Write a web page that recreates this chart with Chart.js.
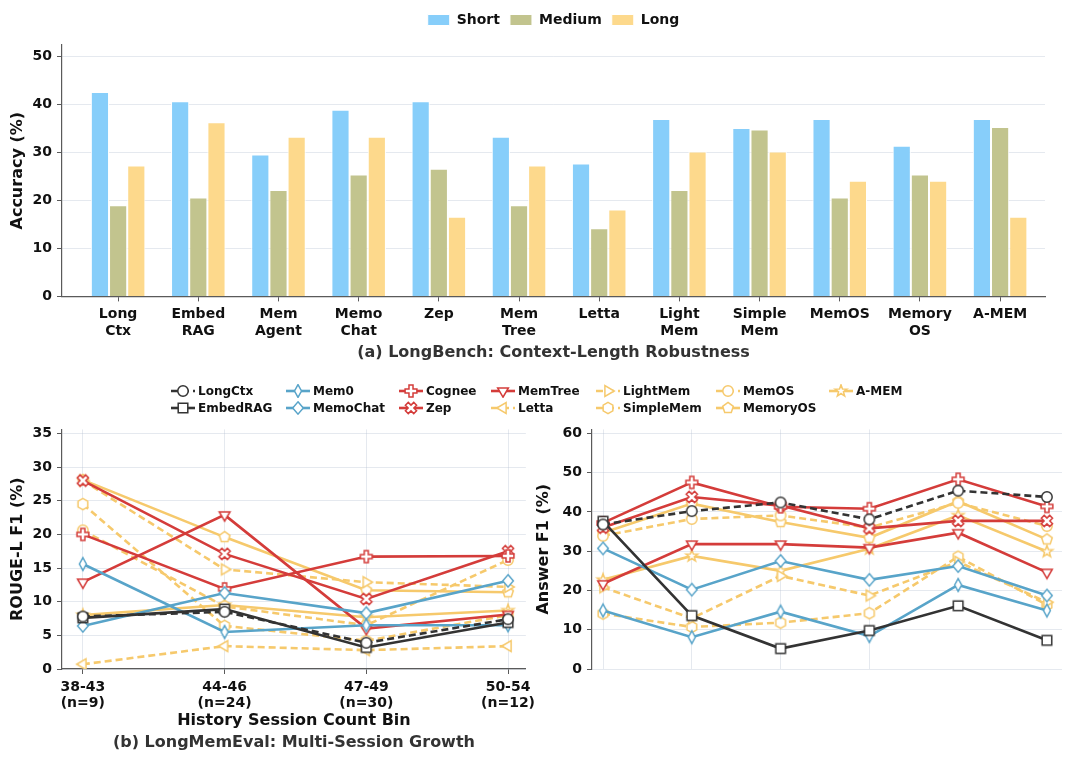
<!DOCTYPE html>
<html>
<head>
<meta charset="utf-8">
<script src="https://cdn.jsdelivr.net/npm/chart.js@4.4.1/dist/chart.umd.min.js"></script>
<style>
  html, body { margin: 0; padding: 0; background: #fff; }
  #page { position: relative; width: 1080px; height: 762px; overflow: hidden; font-family: 'DejaVu Sans', sans-serif; }
  .box { position: absolute; }
  #lineLegend {
    position: absolute; left: 170px; top: 382px;
    display: grid; grid-auto-flow: column;
    grid-template-rows: 17px 17px;
    grid-template-columns: 115px 113px 92px 105px 120px 113px 80px;
    font: bold 12px 'DejaVu Sans', sans-serif; color: #111;
  }
  #lineLegend .item { display: flex; align-items: center; gap: 2px; white-space: nowrap; }
  #lineLegend canvas { display: block; }
</style>
</head>
<body>
<div id="page">
  <div class="box" style="left:0;top:0;width:1080px;height:366px"><canvas id="benchChart"></canvas></div>
  <div id="lineLegend"></div>
  <div class="box" style="left:0;top:416px;width:540px;height:346px"><canvas id="rougeChart"></canvas></div>
  <div class="box" style="left:530px;top:416px;width:550px;height:346px"><canvas id="f1Chart"></canvas></div>
</div>
<script>
Chart.defaults.font.family = "'DejaVu Sans', sans-serif";
Chart.defaults.color = '#111';
Chart.defaults.animation = false;

// (a) LongBench
const categories = [['Long', 'Ctx'], ['Embed', 'RAG'], ['Mem', 'Agent'], ['Memo', 'Chat'], 'Zep', ['Mem', 'Tree'],
    'Letta', ['Light', 'Mem'], ['Simple', 'Mem'], 'MemOS', ['Memory', 'OS'], 'A-MEM'];
const shortAcc = [42.6, 40.7, 29.6, 38.9, 40.7, 33.3, 27.7, 37.0, 35.1, 37.0, 31.4, 37.0];
const mediumAcc = [19.0, 20.6, 22.2, 25.4, 26.6, 19.0, 14.2, 22.2, 34.8, 20.6, 25.4, 35.3];
const longAcc = [27.3, 36.3, 33.3, 33.3, 16.6, 27.3, 18.1, 30.2, 30.2, 24.1, 24.1, 16.6];
const accTicks = [0, 10, 20, 30, 40, 50];

// (b) LongMemEval - ROUGE-L F1 per session bin
const rougeBins = [['38-43', '(n=9)'], ['44-46', '(n=24)'], ['47-49', '(n=30)'], ['50-54', '(n=12)']];
const rougeTicks = [0, 5, 10, 15, 20, 25, 30, 35];
const rougeLongCtx = [7.8, 8.5, 3.9, 7.4];
const rougeEmbedRAG = [7.6, 8.9, 3.2, 6.9];
const rougeMem0 = [15.6, 5.5, 6.5, 6.5];
const rougeMemoChat = [6.4, 11.3, 8.3, 13.1];
const rougeCognee = [20.0, 11.9, 16.7, 16.8];
const rougeZep = [28.0, 17.1, 10.4, 17.5];
const rougeMemTree = [12.9, 22.9, 6.0, 8.1];
const rougeLetta = [0.7, 3.4, 2.8, 3.4];
const rougeLightMem = [28.0, 14.8, 12.9, 12.2];
const rougeSimpleMem = [24.5, 6.4, 4.2, 8.0];
const rougeMemOS = [20.6, 9.3, 6.5, 16.2];
const rougeMemoryOS = [28.1, 19.6, 11.7, 11.4];
const rougeAMem = [8.0, 9.5, 7.7, 8.7];

// Answer F1 (6 bins, labels not readable)
const f1Ticks = [0, 10, 20, 30, 40, 50, 60];
const f1LongCtx = [36.8, 40.2, 42.4, 38.1, 45.4, 43.8];
const f1EmbedRAG = [37.6, 13.6, 5.2, 9.8, 16.1, 7.3];
const f1Mem0 = [14.9, 8.1, 14.6, 8.4, 21.4, 14.9];
const f1MemoChat = [30.7, 20.2, 27.5, 22.7, 26.2, 18.7];
const f1Cognee = [37.2, 47.5, 41.3, 40.8, 48.3, 41.4];
const f1Zep = [36.0, 43.8, 41.6, 35.8, 37.7, 37.7];
const f1MemTree = [21.7, 31.8, 31.8, 30.9, 34.7, 24.6];
const f1LightMem = [20.8, 12.9, 23.7, 18.7, 27.3, 17.0];
const f1SimpleMem = [14.1, 10.7, 11.8, 14.2, 28.6, 16.3];
const f1MemOS = [33.9, 38.2, 39.1, 36.0, 42.3, 36.4];
const f1MemoryOS = [34.7, 42.1, 37.4, 33.4, 42.7, 33.0];
const f1AMem = [22.7, 28.8, 25.0, 30.6, 39.1, 29.9];

const DARK = '#333333', BLUE = '#58A4C9', RED = '#D43C3A', YELLOW = '#F6C96C';
const GRID = 'rgba(175,188,204,0.32)';
const AXIS = '#5a5a5a';

// method, colour, dash, marker, rouge, f1
const methods = [
    ['LongCtx', DARK, true, 'circle', rougeLongCtx, f1LongCtx],
    ['EmbedRAG', DARK, false, 'square', rougeEmbedRAG, f1EmbedRAG],
    ['Mem0', BLUE, false, 'thinDiamond', rougeMem0, f1Mem0],
    ['MemoChat', BLUE, false, 'diamond', rougeMemoChat, f1MemoChat],
    ['Cognee', RED, false, 'plus', rougeCognee, f1Cognee],
    ['Zep', RED, false, 'cross', rougeZep, f1Zep],
    ['MemTree', RED, false, 'triDown', rougeMemTree, f1MemTree],
    ['Letta', YELLOW, true, 'triLeft', rougeLetta, null],
    ['LightMem', YELLOW, true, 'triRight', rougeLightMem, f1LightMem],
    ['SimpleMem', YELLOW, true, 'hexagon', rougeSimpleMem, f1SimpleMem],
    ['MemOS', YELLOW, true, 'circle', rougeMemOS, f1MemOS],
    ['MemoryOS', YELLOW, false, 'pentagon', rougeMemoryOS, f1MemoryOS],
    ['A-MEM', YELLOW, false, 'star', rougeAMem, f1AMem],
];

// маркеры: белая заливка, цветной контур
function markerCanvas(shape, color) {
    const r = 5.6, size = 18;
    const c = document.createElement('canvas');
    c.width = size; c.height = size;
    const ctx = c.getContext('2d');
    ctx.translate(size / 2, size / 2);
    ctx.beginPath();
    const poly = pts => { pts.forEach(([x, y], i) => i ? ctx.lineTo(x, y) : ctx.moveTo(x, y)); ctx.closePath(); };
    const ngon = (n, rad, rot) => {
        const p = [];
        for (let i = 0; i < n; i++) {
            const a = rot + i * 2 * Math.PI / n;
            p.push([rad * Math.cos(a), rad * Math.sin(a)]);
        }
        return p;
    };
    switch (shape) {
        case 'circle': ctx.arc(0, 0, r - 0.4, 0, Math.PI * 2); break;
        case 'square': ctx.rect(-r + 0.8, -r + 0.8, 2 * r - 1.6, 2 * r - 1.6); break;
        case 'diamond': poly([[0, -r - 0.6], [r - 0.3, 0], [0, r + 0.6], [-r + 0.3, 0]]); break;
        case 'thinDiamond': poly([[0, -r - 0.8], [r * 0.62, 0], [0, r + 0.8], [-r * 0.62, 0]]); break;
        case 'triDown': poly(ngon(3, r + 0.6, Math.PI / 2)); break;
        case 'triRight': poly(ngon(3, r + 0.6, 0)); break;
        case 'triLeft': poly(ngon(3, r + 0.6, Math.PI)); break;
        case 'pentagon': poly(ngon(5, r, -Math.PI / 2)); break;
        case 'hexagon': poly(ngon(6, r, -Math.PI / 2)); break;
        case 'star': {
            const p = [];
            for (let i = 0; i < 10; i++) {
                const a = -Math.PI / 2 + i * Math.PI / 5;
                const rr = i % 2 ? r * 0.45 : r + 0.6;
                p.push([rr * Math.cos(a), rr * Math.sin(a)]);
            }
            poly(p);
            break;
        }
        case 'plus':
        case 'cross': {
            const t = r * 0.36, R = r + 0.3;
            let p = [[-t, -R], [t, -R], [t, -t], [R, -t], [R, t], [t, t], [t, R], [-t, R], [-t, t], [-R, t], [-R, -t], [-t, -t]];
            if (shape === 'cross') p = p.map(([x, y]) => [(x - y) * Math.SQRT1_2, (x + y) * Math.SQRT1_2]);
            poly(p);
            break;
        }
    }
    ctx.fillStyle = '#fff';
    ctx.fill();
    ctx.lineWidth = 1.5;
    ctx.strokeStyle = color;
    ctx.stroke();
    return c;
}

const onlyTicks = values => scale => { scale.ticks = values.map(v => ({value: v})); };
const tickFont = {size: 14, weight: 'bold'};

// отступ под легендой
const legendGap = {
    id: 'legendGap',
    beforeInit(chart) {
        const fitValue = chart.legend.fit;
        chart.legend.fit = function fit() {
            fitValue.bind(chart.legend)();
            this.height += 8;
        };
    }
};

// Столбцы (a)
const benchChart = new Chart(document.getElementById('benchChart'), {
    type: 'bar',
    data: {
        datasets: [
            {label: 'Short', data: shortAcc.map((v, i) => ({x: i, y: v})), backgroundColor: '#87CEFA'},
            {label: 'Medium', data: mediumAcc.map((v, i) => ({x: i, y: v})), backgroundColor: '#C2C48E'},
            {label: 'Long', data: longAcc.map((v, i) => ({x: i, y: v})), backgroundColor: '#FDD98C'},
        ].map(ds => Object.assign(ds, {borderColor: '#fff', borderWidth: 1, categoryPercentage: 0.68, barPercentage: 1}))
    },
    plugins: [legendGap],
    options: {
        responsive: true,
        maintainAspectRatio: false,
        layout: {padding: {top: 3, right: 35, left: 0, bottom: 0}},
        plugins: {
            legend: {
                fullSize: false,
                labels: {boxWidth: 22, boxHeight: 11, padding: 10, font: {size: 14, weight: 'bold'}, color: '#111'}
            },
            title: {
                display: true, position: 'bottom', fullSize: false, text: '(a) LongBench: Context-Length Robustness',
                color: '#333', font: {size: 16, weight: 'bold'}, padding: {top: 0, bottom: 4}
            },
            tooltip: {enabled: false}
        },
        scales: {
            x: {
                type: 'linear', min: -0.7, max: 11.56, offset: false,
                afterBuildTicks: onlyTicks(categories.map((c, i) => i)),
                afterFit: s => { s.height = 46.4; },
                ticks: {callback: v => categories[v], font: tickFont, color: '#111', padding: 5, maxRotation: 0, autoSkip: false},
                grid: {display: true, offset: false, drawOnChartArea: false, tickLength: 5, tickColor: AXIS},
                border: {color: AXIS, width: 1.2}
            },
            y: {
                min: 0, max: 52.4,
                afterBuildTicks: onlyTicks(accTicks),
                afterFit: s => { s.width = 62; },
                ticks: {font: tickFont, color: '#111', padding: 5},
                grid: {color: GRID, tickColor: AXIS, tickLength: 5},
                border: {color: AXIS, width: 1.2},
                title: {display: true, text: 'Accuracy (%)', font: {size: 16, weight: 'bold'}, color: '#111', padding: {top: 8}}
            }
        }
    }
});

function lineDatasets(col) {
    return methods.filter(m => m[col]).map(([label, color, dashed, shape, ...series]) => ({
        label,
        data: series[col - 4].map((v, i) => ({x: i, y: v})),
        borderColor: color,
        backgroundColor: '#fff',
        borderWidth: 2.6,
        borderDash: dashed ? [7, 4] : [],
        pointStyle: markerCanvas(shape, color),
        pointRadius: 5,
        tension: 0,
        fill: false
    }));
}

function lineOptions({yMax, yTicks, xMin, xMax, count, yTitle, padLeftTitle, padRight, showX}) {
    return {
        responsive: true,
        maintainAspectRatio: false,
        layout: {padding: {top: 4, right: padRight, left: 0, bottom: 0}},
        plugins: {
            legend: {display: false},
            tooltip: {enabled: false},
            title: showX ? {
                display: true, position: 'bottom', fullSize: false, text: '(b) LongMemEval: Multi-Session Growth',
                color: '#333', font: {size: 16, weight: 'bold'}, padding: {top: 0, bottom: 10}
            } : {display: false}
        },
        scales: {
            x: {
                type: 'linear', min: xMin, max: xMax,
                afterBuildTicks: onlyTicks(Array.from({length: count}, (_, i) => i)),
                afterFit: s => { s.height = showX ? 63.8 : 93; },
                ticks: {display: showX, callback: v => rougeBins[v], font: tickFont, color: '#111', padding: 4.6, maxRotation: 0, autoSkip: false},
                grid: {color: GRID, tickColor: showX ? AXIS : 'rgba(0,0,0,0)', tickLength: 5},
                border: {display: showX, color: AXIS, width: 1.2},
                title: showX ? {display: true, text: 'History Session Count Bin', font: {size: 16, weight: 'bold'}, color: '#111', padding: {top: 0, bottom: 2}} : {display: false}
            },
            y: {
                min: 0, max: yMax,
                afterBuildTicks: onlyTicks(yTicks),
                afterFit: s => { s.width = 62; },
                ticks: {font: tickFont, color: '#111', padding: 5},
                grid: {color: GRID, tickColor: AXIS, tickLength: 5},
                border: {color: AXIS, width: 1.2},
                title: {display: true, text: yTitle, font: {size: 16, weight: 'bold'}, color: '#111', padding: {top: padLeftTitle}}
            }
        }
    };
}

const rougeChart = new Chart(document.getElementById('rougeChart'), {
    type: 'line',
    data: {datasets: lineDatasets(4)},
    options: lineOptions({yMax: 35.6, yTicks: rougeTicks, xMin: -0.147, xMax: 3.126, count: 4,
        yTitle: 'ROUGE-L F1 (%)', padLeftTitle: 8.4, padRight: 10, showX: true})
});

const f1Chart = new Chart(document.getElementById('f1Chart'), {
    type: 'line',
    data: {datasets: lineDatasets(5)},
    options: lineOptions({yMax: 61, yTicks: f1Ticks, xMin: -0.124, xMax: 5.17, count: 6,
        yTitle: 'Answer F1 (%)', padLeftTitle: 4.4, padRight: 18, showX: false})
});

// Общая легенда для (b)
const legendBox = document.getElementById('lineLegend');
rougeChart.data.datasets.forEach(ds => {
    const item = document.createElement('div');
    item.className = 'item';
    const sw = document.createElement('canvas');
    sw.width = 26; sw.height = 14;
    const c = sw.getContext('2d');
    c.strokeStyle = ds.borderColor;
    c.lineWidth = 2.6;
    c.setLineDash(ds.borderDash);
    c.beginPath(); c.moveTo(1, 7); c.lineTo(25, 7); c.stroke();
    c.drawImage(ds.pointStyle, 13 - 9, 7 - 9);
    const label = document.createElement('span');
    label.textContent = ds.label;
    item.append(sw, label);
    legendBox.append(item);
});
</script>
</body>
</html>
